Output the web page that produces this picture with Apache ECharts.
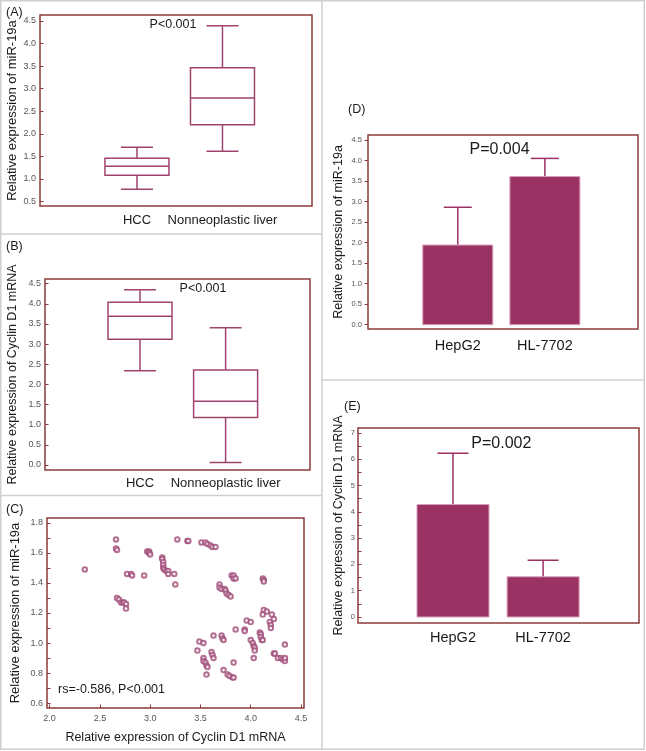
<!DOCTYPE html>
<html><head><meta charset="utf-8">
<script src="https://cdn.jsdelivr.net/npm/echarts@6/dist/echarts.min.js"></script>
<style>html,body{margin:0;padding:0;background:#fff}#c{width:646px;height:751px}</style>
</head><body><div id="c"></div>
<script>
// ---------- data ----------
const boxCategories = ['HCC', 'Nonneoplastic liver'];
// [min, Q1, median, Q3, max]
const miR19aBox = [[0.77, 1.08, 1.28, 1.46, 1.70], [1.61, 2.20, 2.79, 3.46, 4.39]];
const cyclinBox = [[2.34, 3.12, 3.69, 4.04, 4.35], [0.06, 1.18, 1.58, 2.36, 3.41]];
const ticksA = [0.5, 1.0, 1.5, 2.0, 2.5, 3.0, 3.5, 4.0, 4.5];
const ticksB = [0.0, 0.5, 1.0, 1.5, 2.0, 2.5, 3.0, 3.5, 4.0, 4.5];
const ticksCx = [2.0, 2.5, 3.0, 3.5, 4.0, 4.5];
const ticksCyLabels = [0.6, 0.8, 1.0, 1.2, 1.4, 1.6, 1.8];
const ticksCy = [0.6, 0.7, 0.8, 0.9, 1.0, 1.1, 1.2, 1.3, 1.4, 1.5, 1.6, 1.7, 1.8];
const ticksD = [0.0, 0.5, 1.0, 1.5, 2.0, 2.5, 3.0, 3.5, 4.0, 4.5];
const ticksELabels = [0, 1, 2, 3, 4, 5, 6, 7];
const ticksE = [0, 0.5, 1, 1.5, 2, 2.5, 3, 3.5, 4, 4.5, 5, 5.5, 6, 6.5, 7];

const scatterCyclin = [
  2.35, 2.66, 2.66, 2.67, 2.77, 2.81, 2.82, 2.94, 2.97, 2.99, 2.99, 3.00,
  3.12, 3.12, 3.13, 3.13, 3.13, 3.14, 3.16, 3.18, 3.18, 3.24, 3.25, 3.27,
  2.67, 2.69, 2.71, 2.73, 2.74, 2.76, 2.76,
  3.37, 3.38, 3.51, 3.55, 3.57, 3.60, 3.62, 3.65,
  3.69, 3.69, 3.71, 3.74, 3.75, 3.76, 3.78, 3.80,
  3.81, 3.83, 3.83, 3.85,
  4.12, 4.13, 4.13,
  4.13, 4.16, 4.12, 4.21, 4.23, 4.19, 4.20, 4.20,
  3.96, 4.00, 3.85, 3.94, 3.94,
  3.71, 3.72, 3.73, 3.63,
  3.49, 3.53, 3.47,
  3.53, 3.53, 3.55, 3.56, 3.57, 3.56,
  3.61, 3.62, 3.63,
  3.73, 3.77, 3.79, 3.82, 3.83, 3.83,
  4.00, 4.02, 4.03, 4.04, 4.04, 4.03,
  4.09, 4.10, 4.10, 4.11, 4.12,
  4.23, 4.24, 4.27, 4.30, 4.32, 4.34, 4.34, 4.34
];
const scatterMiR = [
  1.49, 1.69, 1.63, 1.62, 1.46, 1.46, 1.45, 1.45, 1.61, 1.61, 1.60, 1.59,
  1.57, 1.56, 1.54, 1.52, 1.50, 1.49, 1.48, 1.48, 1.46, 1.46, 1.39, 1.69,
  1.30, 1.29, 1.27, 1.27, 1.27, 1.26, 1.23,
  1.68, 1.68, 1.67, 1.67, 1.66, 1.65, 1.64, 1.64,
  1.39, 1.37, 1.36, 1.36, 1.35, 1.33, 1.32, 1.31,
  1.45, 1.45, 1.43, 1.43,
  1.43, 1.42, 1.41,
  1.22, 1.21, 1.19, 1.19, 1.16, 1.14, 1.12, 1.10,
  1.15, 1.14, 1.09, 1.09, 1.08,
  1.05, 1.03, 1.02, 1.05,
  1.01, 1.00, 0.95,
  0.90, 0.88, 0.87, 0.85, 0.84, 0.79,
  0.94, 0.92, 0.90,
  0.82, 0.79, 0.78, 0.77, 0.77, 0.87,
  1.02, 1.00, 0.98, 0.97, 0.95, 0.90,
  1.07, 1.06, 1.04, 1.02, 1.02,
  0.93, 0.93, 0.90, 0.90, 0.89, 0.88, 0.90, 0.99
];

const cellLines = ['HepG2', 'HL-7702'];
const miR19aCellMean = [1.94, 3.61];
const miR19aCellUpper = [2.86, 4.05];
const cyclinCellMean = [4.28, 1.53];
const cyclinCellUpper = [6.23, 2.16];

// ---------- style ----------
const FONT = '"Liberation Sans", Arial, Helvetica, sans-serif';
const FRAME = '#8a3b3b';
const BOX = '#a0446e';
const BAR = '#9a3264';
const DOT = '#a04c78';
const SEP = '#cfcfcf';
const TXT = '#1a1a1a';
const TICKTXT = '#555';

function boxRender(params, api) {
  const x = api.value(0);
  const lo = api.coord([x, api.value(1)]);
  const q1 = api.coord([x, api.value(2)]);
  const md = api.coord([x, api.value(3)]);
  const q3 = api.coord([x, api.value(4)]);
  const hi = api.coord([x, api.value(5)]);
  const cx = lo[0], bw = 64, cw = 32;
  const st = { stroke: BOX, lineWidth: 1.5, fill: null };
  return {
    type: 'group', children: [
      { type: 'line', shape: { x1: cx, y1: hi[1], x2: cx, y2: q3[1] }, style: st },
      { type: 'line', shape: { x1: cx, y1: q1[1], x2: cx, y2: lo[1] }, style: st },
      { type: 'line', shape: { x1: cx - cw / 2, y1: hi[1], x2: cx + cw / 2, y2: hi[1] }, style: st },
      { type: 'line', shape: { x1: cx - cw / 2, y1: lo[1], x2: cx + cw / 2, y2: lo[1] }, style: st },
      { type: 'rect', shape: { x: cx - bw / 2, y: q3[1], width: bw, height: q1[1] - q3[1] }, style: { stroke: BOX, lineWidth: 1.5, fill: '#fff' } },
      { type: 'line', shape: { x1: cx - bw / 2, y1: md[1], x2: cx + bw / 2, y2: md[1] }, style: st }
    ]
  };
}
function barRender(bw, cw) {
  return function (params, api) {
    const x = api.value(0);
    const base = api.coord([x, 0]);
    const top = api.coord([x, api.value(1)]);
    const et = api.coord([x, api.value(2)]);
    const cx = top[0];
    const st = { stroke: BAR, lineWidth: 1.5 };
    return {
      type: 'group', children: [
        { type: 'line', shape: { x1: cx, y1: top[1], x2: cx, y2: et[1] }, style: st },
        { type: 'line', shape: { x1: cx - cw / 2, y1: et[1], x2: cx + cw / 2, y2: et[1] }, style: st },
        { type: 'rect', shape: { x: cx - bw / 2, y: top[1], width: bw, height: base[1] - top[1] }, style: { fill: BAR, stroke: '#d7a0ba', lineWidth: 1 } }
      ]
    };
  };
}

function grid(l, t, w, h) {
  return { left: l, top: t, width: w, height: h, show: true, borderColor: FRAME, borderWidth: 1.5, containLabel: false, outerBoundsMode: 'none' };
}
function catX(gi, min, max, labels, size, margin) {
  return {
    gridIndex: gi, type: 'value', min: min, max: max,
    axisLine: { show: false, onZero: false }, axisTick: { show: false }, splitLine: { show: false },
    axisLabel: { customValues: [1, 2], formatter: v => labels[Math.round(v) - 1], fontSize: size, color: TXT, margin: margin, fontFamily: FONT }
  };
}
function valY(gi, min, max, labelVals, tickVals, dec, size, margin, inside, name, nameSize, nameGap) {
  return {
    gridIndex: gi, type: 'value', min: min, max: max,
    axisLine: { show: false, onZero: false }, splitLine: { show: false },
    axisTick: { show: true, customValues: tickVals, inside: inside, length: 3.5, lineStyle: { color: FRAME, width: 1 } },
    axisLabel: { customValues: labelVals, formatter: v => v.toFixed(dec), fontSize: size, color: TICKTXT, margin: margin, fontFamily: FONT },
    name: name, nameLocation: 'middle', nameGap: nameGap, nameMoveOverlap: false,
    nameTextStyle: { fontSize: nameSize, color: TXT, fontFamily: FONT }
  };
}
function txt(x, y, text, size, align) {
  return {
    type: 'text', x: x, y: y, silent: true, z: 50,
    style: { text: text, font: size + 'px ' + FONT, fill: TXT, align: align || 'center', verticalAlign: 'middle', textAlign: align || 'center', textVerticalAlign: 'middle' }
  };
}

const option = {
  animation: false,
  backgroundColor: '#fff',
  textStyle: { fontFamily: FONT },
  grid: [
    grid(40, 15, 272, 191),
    grid(45, 279, 265, 191),
    grid(47, 518, 257, 190),
    grid(368, 135, 270, 194),
    grid(358, 428, 281, 195)
  ],
  xAxis: [
    catX(0, -0.134, 3.047, boxCategories, 13, 8),
    catX(1, -0.11, 2.986, boxCategories, 13, 7),
    {
      gridIndex: 2, type: 'value', min: 1.974, max: 4.53,
      axisLine: { show: false, onZero: false }, splitLine: { show: false },
      axisTick: { show: true, customValues: ticksCx, inside: true, length: 3.5, lineStyle: { color: FRAME } },
      axisLabel: { customValues: ticksCx, formatter: v => v.toFixed(1), fontSize: 9, color: TICKTXT, margin: 6, fontFamily: FONT },
      name: 'Relative expression of Cyclin D1 mRNA', nameLocation: 'middle', nameGap: 23.5, nameMoveOverlap: false,
      nameTextStyle: { fontSize: 12.5, color: TXT, fontFamily: FONT }
    },
    catX(3, -0.031, 3.069, cellLines, 14.5, 9),
    catX(4, -0.054, 3.064, cellLines, 14.5, 7.5)
  ],
  yAxis: [
    valY(0, 0.4, 4.63, ticksA, ticksA, 1, 9, 4, true, 'Relative expression of miR-19a', 13, 21),
    valY(1, -0.124, 4.617, ticksB, ticksB, 1, 9, 4, true, 'Relative expression of Cyclin D1 mRNA', 12.5, 26),
    valY(2, 0.567, 1.833, ticksCyLabels, ticksCy, 1, 9, 4, true, 'Relative expression of miR-19a', 13, 25),
    valY(3, -0.105, 4.62, ticksD, ticksD, 1, 7.5, 6, false, 'Relative expression of miR-19a', 12.5, 23),
    valY(4, -0.228, 7.19, ticksELabels, ticksE, 0, 7.5, 3, true, 'Relative expression of Cyclin D1 mRNA', 12.5, 13)
  ],
  series: [
    { type: 'custom', xAxisIndex: 0, yAxisIndex: 0, renderItem: boxRender, encode: { x: 0, y: [1, 2, 3, 4, 5] },
      data: miR19aBox.map((d, i) => [i + 1].concat(d)) },
    { type: 'custom', xAxisIndex: 1, yAxisIndex: 1, renderItem: boxRender, encode: { x: 0, y: [1, 2, 3, 4, 5] },
      data: cyclinBox.map((d, i) => [i + 1].concat(d)) },
    { type: 'scatter', xAxisIndex: 2, yAxisIndex: 2, symbol: 'emptyCircle', symbolSize: 4.5,
      itemStyle: { color: DOT, borderColor: DOT, borderWidth: 0.9 },
      data: scatterCyclin.map((x, i) => [x, scatterMiR[i]]) },
    { type: 'custom', xAxisIndex: 3, yAxisIndex: 3, renderItem: barRender(70, 28), encode: { x: 0, y: [1, 2] },
      data: miR19aCellMean.map((v, i) => [i + 1, v, miR19aCellUpper[i]]) },
    { type: 'custom', xAxisIndex: 4, yAxisIndex: 4, renderItem: barRender(72, 31), encode: { x: 0, y: [1, 2] },
      data: cyclinCellMean.map((v, i) => [i + 1, v, cyclinCellUpper[i]]) }
  ],
  graphic: [
    { type: 'rect', silent: true, shape: { x: 0.75, y: 0.75, width: 643.5, height: 748.5 }, style: { fill: null, stroke: SEP, lineWidth: 1.5 } },
    { type: 'line', silent: true, shape: { x1: 322, y1: 0, x2: 322, y2: 750 }, style: { stroke: SEP, lineWidth: 1.5 } },
    { type: 'line', silent: true, shape: { x1: 0, y1: 234, x2: 322, y2: 234 }, style: { stroke: SEP, lineWidth: 1.5 } },
    { type: 'line', silent: true, shape: { x1: 0, y1: 495.5, x2: 322, y2: 495.5 }, style: { stroke: SEP, lineWidth: 1.5 } },
    { type: 'line', silent: true, shape: { x1: 322, y1: 380, x2: 645, y2: 380 }, style: { stroke: SEP, lineWidth: 1.5 } },
    txt(6, 13, '(A)', 12.5, 'left'),
    txt(6, 247, '(B)', 12.5, 'left'),
    txt(6, 510, '(C)', 12.5, 'left'),
    txt(348, 110, '(D)', 12.5, 'left'),
    txt(344, 407, '(E)', 12.5, 'left'),
    txt(173, 25, 'P<0.001', 12.5),
    txt(203, 289, 'P<0.001', 12.5),
    txt(58, 690, 'rs=-0.586, P<0.001', 12.5, 'left'),
    txt(499.5, 149.5, 'P=0.004', 16),
    txt(501.3, 443.5, 'P=0.002', 16)
  ]
};

const chart = echarts.init(document.getElementById('c'), null, { renderer: 'canvas' });
chart.setOption(option);
</script>
</body></html>
